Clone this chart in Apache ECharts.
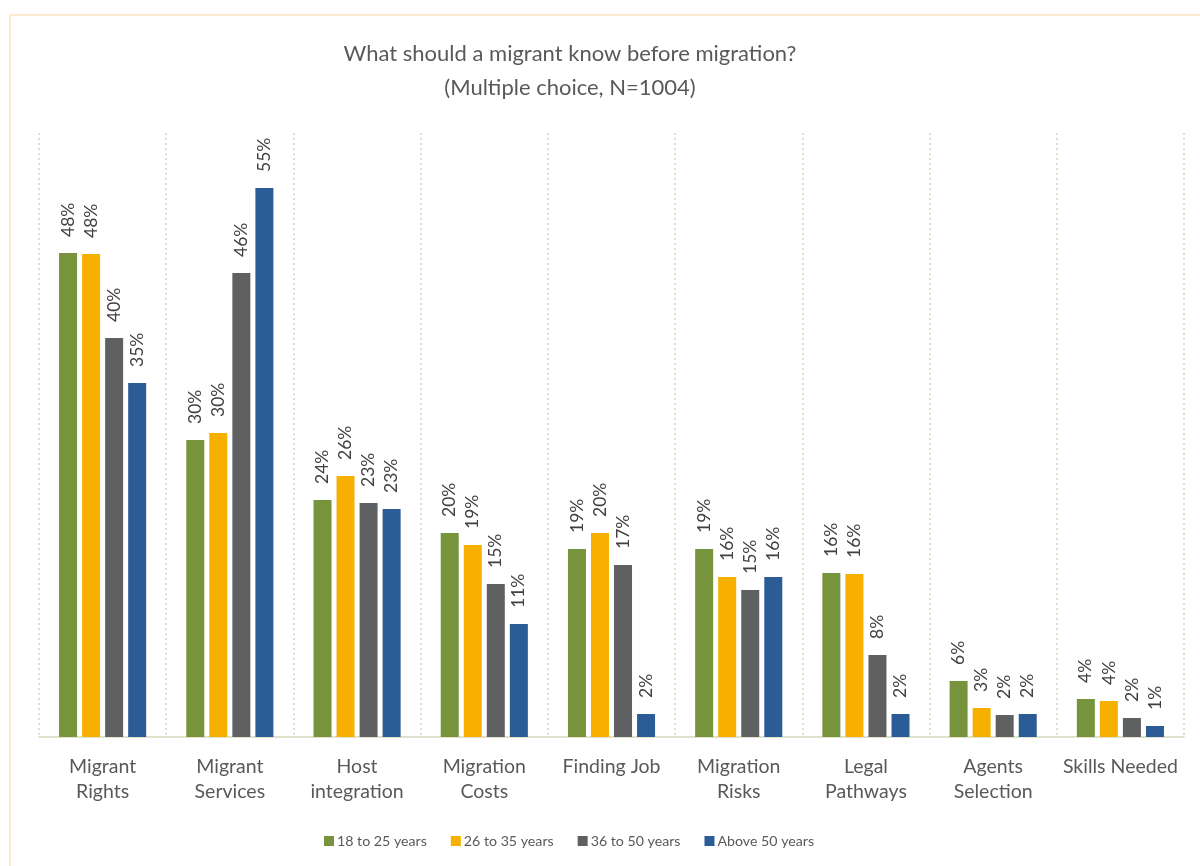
<!DOCTYPE html>
<html>
<head>
<meta charset="utf-8">
<script src="https://cdn.jsdelivr.net/npm/echarts@6/dist/echarts.min.js"></script>
<style>
html,body{margin:0;padding:0;background:#fff;}
#main{width:1200px;height:866px;}
</style>
</head>
<body>
<div id="main"></div>
<script>
const categories = ['Migrant\nRights','Migrant\nServices','Host\nintegration','Migration\nCosts','Finding Job','Migration\nRisks','Legal\nPathways','Agents\nSelection','Skills Needed'];
const seriesNames = ['18 to 25 years','26 to 35 years','36 to 50 years','Above 50 years'];
const age18to25 = [48.4, 29.7, 23.7, 20.4, 18.8, 18.8, 16.4, 5.6, 3.8];
const age26to35 = [48.3, 30.4, 26.1, 19.2, 20.4, 16.0, 16.3, 2.9, 3.6];
const age36to50 = [39.9, 46.4, 23.4, 15.3, 17.2, 14.7, 8.2, 2.2, 1.9];
const above50   = [35.4, 54.9, 22.8, 11.3, 2.3, 16.0, 2.3, 2.3, 1.1];
const titleLines = ['What should a migrant know before migration?', '(Multiple choice, N=1004)'];

const colors = ['#77933C', '#F8B000', '#5F6062', '#2B5C95'];
const font = 'Lato, "Open Sans", sans-serif';
const dataSets = [age18to25, age26to35, age36to50, above50];

const chart = echarts.init(document.getElementById('main'), null, {renderer: 'canvas'});
chart.setOption({
  animation: false,
  backgroundColor: '#fff',
  color: colors,
  textStyle: {fontFamily: font},
  graphic: [
    {type: 'rect', shape: {x: 10, y: 15, width: 1300, height: 1000}, style: {fill: 'none', stroke: '#FBE5C0', lineWidth: 1.5}, silent: true},
    {type: 'text', x: 570, y: 37, style: {text: titleLines.join('\n'), textAlign: 'center', textVerticalAlign: 'top', font: '22px ' + font, fill: '#595959', lineHeight: 34}}
  ],
  legend: {
    data: seriesNames,
    left: 324,
    top: 834,
    padding: 0,
    itemWidth: 10,
    itemHeight: 10,
    itemGap: 24,
    icon: 'rect',
    textStyle: {color: '#595959', fontSize: 14.2, fontFamily: font, padding: [0, 0, 0, -2]}
  },
  grid: {left: 39, right: 16, top: 133, bottom: 129, containLabel: false},
  xAxis: {
    type: 'category',
    data: categories,
    axisLine: {lineStyle: {color: '#D6D9BF', width: 1.5}},
    axisTick: {show: false},
    axisLabel: {interval: 0, color: '#595959', fontSize: 19.5, lineHeight: 25, margin: 17, fontFamily: font},
    splitLine: {show: true, lineStyle: {color: '#DEE1C8', type: [2, 3], width: 2}}
  },
  yAxis: {
    type: 'value', min: 0, max: 60.4, show: false, splitLine: {show: false}
  },
  series: seriesNames.map((name, i) => ({
    name: name,
    type: 'bar',
    data: dataSets[i],
    barWidth: 18,
    barGap: '28%',
    itemStyle: {color: colors[i]},
    label: {
      show: true,
      position: 'top',
      rotate: 90,
      align: 'left',
      verticalAlign: 'middle',
      distance: 16,
      color: '#404040',
      fontSize: 17.5,
      fontFamily: font,
      formatter: p => Math.round(p.value) + '%'
    }
  }))
});
</script>
</body>
</html>
